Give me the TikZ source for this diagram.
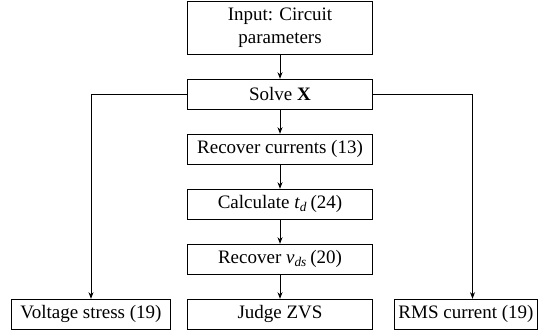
\documentclass[tikz,border=0pt]{standalone}
\usepackage{fontspec}
\setmainfont{Liberation Serif}
\usetikzlibrary{shapes,arrows.meta,positioning}
\tikzstyle{blk}=[rectangle,draw,line width=0.6pt,align=center,minimum width=111pt,minimum height=18pt,inner sep=1pt,font=\fontsize{11.4}{13.6}\selectfont]
\tikzstyle{arr}=[-{Stealth[length=4pt,width=3pt]},line width=0.6pt]

\begin{document}
\begin{tikzpicture}[node distance=14.4pt]
\useasboundingbox (0,0) rectangle (336pt,-198pt);
\node (in) [blk, minimum height=31.8pt, anchor=north] at (168pt,-0.5pt) {Input: Circuit\\parameters};
\node (solve) [blk, below=of in] {Solve \textbf{X}};
\node (cur) [blk, below=of solve] {Recover currents (13)};
\node (td) [blk, below=of cur] {Calculate \textit{t}\textsubscript{\textit{d}}\,(24)};
\node (vds) [blk, below=of td] {Recover \textit{v}\textsubscript{\textit{ds}}\,(20)};
\node (zvs) [blk, below=of vds] {Judge ZVS};
\node (vs) [blk, minimum width=95.4pt, left=9.6pt of zvs] {Voltage stress (19)};
\node (rms) [blk, minimum width=85.8pt, right=12.6pt of zvs] {RMS current (19)};
\draw [arr] (in) -- (solve);
\draw [arr] (solve) -- (cur);
\draw [arr] (cur) -- (td);
\draw [arr] (td) -- (vds);
\draw [arr] (vds) -- (zvs);
\draw [arr] (solve.west) -| (vs.north);
\draw [arr] (solve.east) -| ([xshift=3.9pt]rms.north);
\end{tikzpicture}
\end{document}
